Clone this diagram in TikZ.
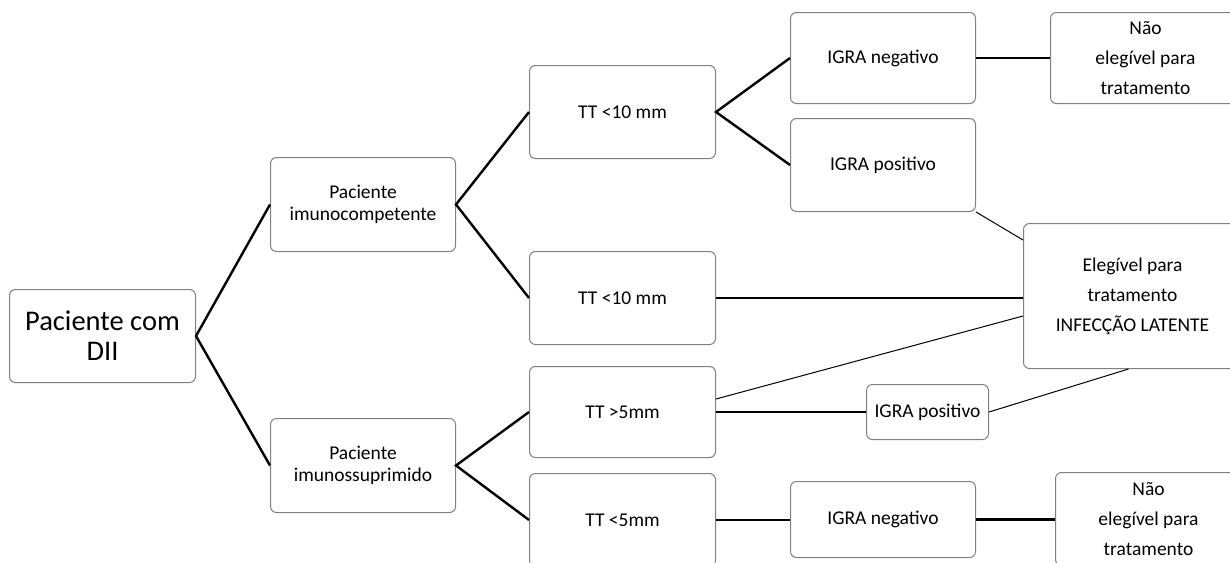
\documentclass[tikz,border=0pt]{standalone}
\usepackage{fontspec}
\setmainfont{Carlito}
\usetikzlibrary{calc}
\begin{document}
\begin{tikzpicture}[x=1pt,y=-1pt,
  box/.style={draw=black!50, line width=1pt, rounded corners=6pt, fill=white,
    inner sep=0pt, align=center, anchor=north west,
    font=\fontsize{19.5}{22}\selectfont},
  tall/.style={font=\fontsize{19.5}{30}\selectfont},
  thickln/.style={line width=2.4pt, black},
  thinln/.style={line width=1pt, black}]
\clip (0,0) rectangle (1230,562);
\fill[white] (0,0) rectangle (1230,562);
% nodes
\node[box, minimum width=186pt, minimum height=93pt, font=\fontsize{28.5}{30}\selectfont] (A) at (9,289) {Paciente com\\DII};
\node[box, minimum width=185pt, minimum height=94pt] (B) at (270,157) {Paciente\\imunocompetente};
\node[box, minimum width=185pt, minimum height=94pt] (C) at (270,418) {Paciente\\imunossuprimido};
\node[box, minimum width=186pt, minimum height=93pt] (D) at (529,65) {TT <10 mm};
\node[box, minimum width=186pt, minimum height=93pt] (I) at (529,251) {TT <10 mm};
\node[box, minimum width=186pt, minimum height=91pt] (J) at (529,366) {TT >5mm};
\node[box, minimum width=186pt, minimum height=93pt] (K) at (529,473) {TT <5mm};
\node[box, minimum width=185pt, minimum height=91pt] (E) at (790,12) {IGRA negativo};
\node[box, minimum width=185pt, minimum height=93pt] (F) at (790,118) {IGRA positivo};
\node[box, tall, minimum width=190pt, minimum height=91pt] (G) at (1050,12) {Não\\elegível para\\tratamento};
\node[box, tall, minimum width=218pt, minimum height=145pt] (H) at (1023,223) {Elegível para\\tratamento\\INFECÇÃO LATENTE};
\node[box, minimum width=122pt, minimum height=55pt] (L) at (866,384) {IGRA positivo};
\node[box, minimum width=185pt, minimum height=76pt] (M) at (790,481) {IGRA negativo};
\node[box, tall, minimum width=186pt, minimum height=93pt] (N) at (1055,472) {Não\\elegível para\\tratamento};
% connectors
\draw[thickln] (B.west) -- (A.east) -- (C.west);
\draw[thickln] (D.west) -- (B.east) -- (I.west);
\draw[thickln] (E.west) -- (D.east) -- (F.west);
\draw[thickln] (J.west) -- (C.east) -- (K.west);
\draw[thickln] (E.east) -- (G.west);
\draw[thickln] (I.east) -- (I.east -| H.west);
\draw[thickln] (J.east) -- (L.west);
\draw[thickln] (K.east) -- (K.east -| M.west);
\draw[thickln] (M.east) -- (M.east -| N.west);
\draw[thinln] (F.south east) -- ($(H.north west)+(0,17)$);
\draw[thinln] ($(J.east)+(0,-13)$) -- ($(H.north west)+(0,93)$);
\draw[thinln] (L.east) -- ($(H.south)+(-4,0)$);
\end{tikzpicture}
\end{document}
